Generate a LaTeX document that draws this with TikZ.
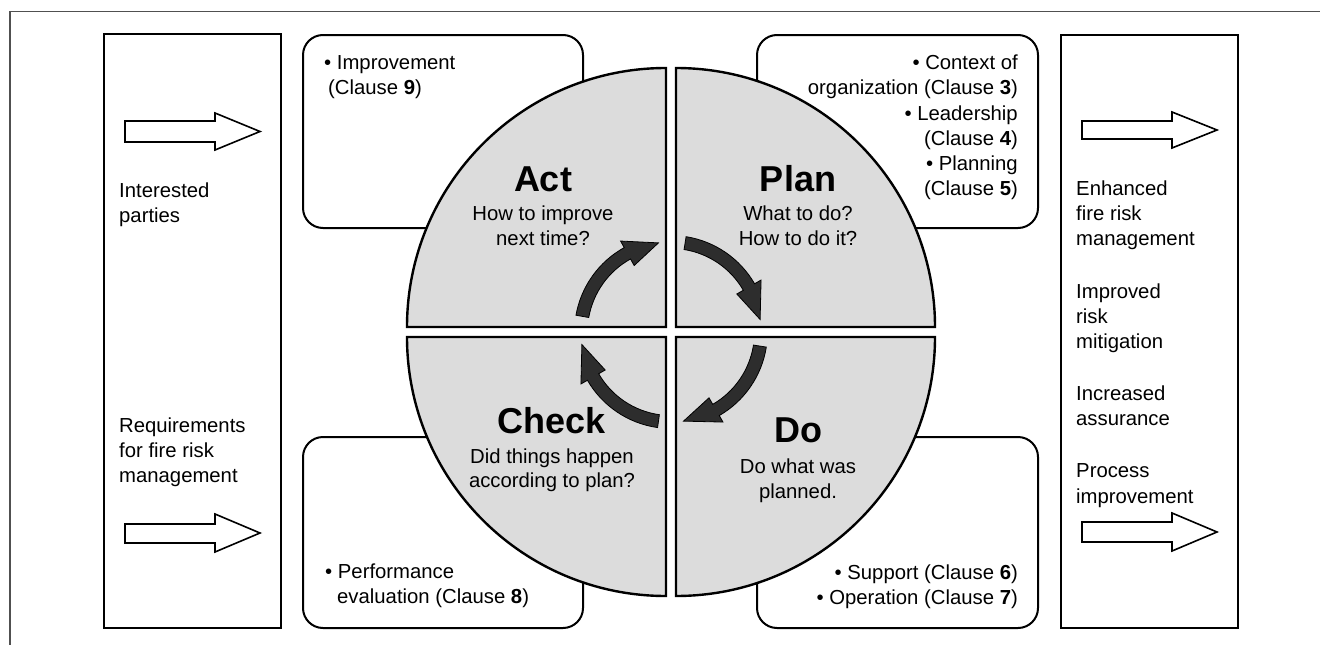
\documentclass[tikz,border=0pt]{standalone}
\usepackage{fontspec}
\setmainfont{Liberation Sans}
\definecolor{quadgray}{RGB}{220,220,220}
\definecolor{arrowdark}{RGB}{45,45,45}
\definecolor{framegray}{RGB}{80,80,80}
\newcommand\pdcaarrow[3]{%
  \path[cyc] (#1:96.5pt) arc[start angle=#1, end angle=#2, radius=96.5pt]
    -- (#2:104pt) -- (#3:90pt) -- (#2:76pt) -- (#2:83.5pt)
    arc[start angle=#2, end angle=#1, radius=83.5pt] -- cycle;}
\begin{document}
\begin{tikzpicture}[x=1pt,y=1pt,
  frame/.style={draw=framegray, line width=1.2pt},
  sidebox/.style={draw=black, line width=2pt, fill=white},
  clausebox/.style={draw=black, line width=2pt, fill=white, rounded corners=20pt},
  quad/.style={draw=black, line width=2.4pt, fill=quadgray, line join=miter},
  hollow/.style={draw=black, line width=1.6pt, fill=white, line join=miter},
  cyc/.style={draw=black, line width=0.8pt, fill=arrowdark, line join=miter},
  txt/.style={font=\fontsize{20.3}{25}\selectfont, inner sep=0pt},
  big/.style={font=\fontsize{36}{40}\selectfont\bfseries, inner sep=0pt}
]
\useasboundingbox (0,0) rectangle (1320,-645);
\draw[frame] (10,-645) -- (10,-11.5) -- (1320,-11.5);

% side boxes
\draw[sidebox] (104,-34) rectangle (281,-628);
\draw[sidebox] (1061,-35) rectangle (1238,-628);

% hollow arrows
\draw[hollow] (125,-121) -- (215,-121) -- (215,-113) -- (260,-131.5) -- (215,-150) -- (215,-142) -- (125,-142) -- cycle;
\draw[hollow] (125,-524) -- (215,-524) -- (215,-514) -- (260,-533) -- (215,-552) -- (215,-543) -- (125,-543) -- cycle;
\draw[hollow] (1082,-121) -- (1172,-121) -- (1172,-112) -- (1217,-130) -- (1172,-148) -- (1172,-139) -- (1082,-139) -- cycle;
\draw[hollow] (1082,-522) -- (1172,-522) -- (1172,-513) -- (1217,-532) -- (1172,-551) -- (1172,-542) -- (1082,-542) -- cycle;

% clause boxes
\draw[clausebox] (303,-35) rectangle (583,-228);
\draw[clausebox] (757,-35) rectangle (1038,-228);
\draw[clausebox] (303,-437) rectangle (583,-628);
\draw[clausebox] (757,-437) rectangle (1038,-628);

% quadrants
\draw[quad] (666,-327) -- ++(-259,0) arc[start angle=180, end angle=90, radius=259pt] -- cycle;
\draw[quad] (676,-327) -- ++(0,259) arc[start angle=90, end angle=0, radius=259pt] -- cycle;
\draw[quad] (676,-337) -- ++(259,0) arc[start angle=0, end angle=-90, radius=259pt] -- cycle;
\draw[quad] (666,-337) -- ++(0,-259) arc[start angle=-90, end angle=-180, radius=259pt] -- cycle;

% cycle arrows
\begin{scope}[shift={(671,-332)}]
  \pdcaarrow{170}{119}{98}
  \pdcaarrow{81}{30}{8}
  \pdcaarrow{-9}{-60}{-82}
  \pdcaarrow{-98}{-150}{-172}
\end{scope}

% left box text
\node[txt, anchor=base west] (in1) at (119,-197) {Interested};
\node[txt, anchor=base west] (in2) at (119,-222) {parties};
\node[txt, anchor=base west] (rq1) at (119,-432) {Requirements};
\node[txt, anchor=base west] (rq2) at (119,-457) {for fire risk};
\node[txt, anchor=base west] (rq3) at (119,-482) {management};

% right box text
\node[txt, anchor=base west] (en1) at (1076,-195) {Enhanced};
\node[txt, anchor=base west] (en2) at (1076,-220) {fire risk};
\node[txt, anchor=base west] (en3) at (1076,-245) {management};
\node[txt, anchor=base west] (im1) at (1076,-298) {Improved};
\node[txt, anchor=base west] (im2) at (1076,-323) {risk};
\node[txt, anchor=base west] (im3) at (1076,-348) {mitigation};
\node[txt, anchor=base west] (ia1) at (1076,-400) {Increased};
\node[txt, anchor=base west] (ia2) at (1076,-425) {assurance};
\node[txt, anchor=base west] (pi1) at (1076,-477) {Process};
\node[txt, anchor=base west] (pi2) at (1076,-503) {improvement};

% clause box texts
\node[txt, anchor=base west] (a1) at (324,-69) {\textbullet{} Improvement};
\node[txt, anchor=base west] (a2) at (328,-94) {(Clause \textbf{9})};

\node[txt, anchor=base east] (p1) at (1018,-69) {\textbullet{} Context of};
\node[txt, anchor=base east] (p2) at (1018,-94) {organization (Clause \textbf{3})};
\node[txt, anchor=base east] (p3) at (1018,-120) {\textbullet{} Leadership};
\node[txt, anchor=base east] (p4) at (1018,-145) {(Clause \textbf{4})};
\node[txt, anchor=base east] (p5) at (1018,-170) {\textbullet{} Planning};
\node[txt, anchor=base east] (p6) at (1018,-195) {(Clause \textbf{5})};

\node[txt, anchor=base west] (c1) at (325,-578) {\textbullet{} Performance};
\node[txt, anchor=base west] (c2) at (337,-603) {evaluation (Clause \textbf{8})};

\node[txt, anchor=base east] (d1) at (1018,-579) {\textbullet{} Support (Clause \textbf{6})};
\node[txt, anchor=base east] (d2) at (1018,-604) {\textbullet{} Operation (Clause \textbf{7})};

% quadrant texts
\node[big, anchor=base] (actT) at (543,-191) {Act};
\node[txt, anchor=base] (actA) at (543,-220) {How to improve};
\node[txt, anchor=base] (actB) at (543,-245) {next time?};

\node[big, anchor=base] (planT) at (798,-191) {Plan};
\node[txt, anchor=base] (planA) at (798,-220) {What to do?};
\node[txt, anchor=base] (planB) at (798,-245) {How to do it?};

\node[big, anchor=base] (checkT) at (552,-433) {Check};
\node[txt, anchor=base] (checkA) at (552,-463) {Did things happen};
\node[txt, anchor=base] (checkB) at (552,-487) {according to plan?};

\node[big, anchor=base] (doT) at (798,-442) {Do};
\node[txt, anchor=base] (doA) at (798,-473) {Do what was};
\node[txt, anchor=base] (doB) at (798,-498) {planned.};
\end{tikzpicture}
\end{document}
